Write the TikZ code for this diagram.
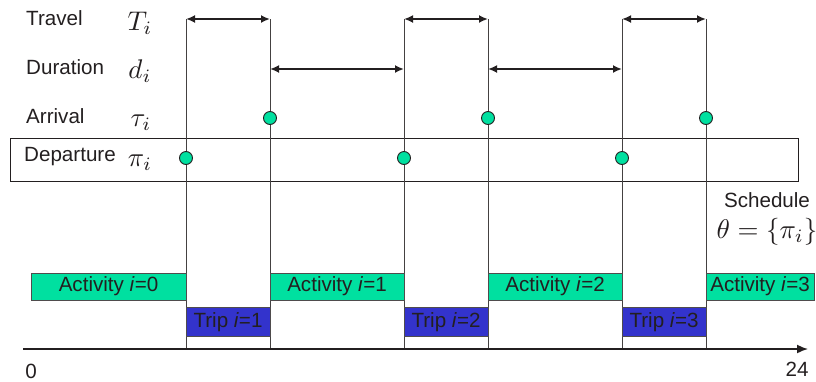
\documentclass[tikz,border=0pt]{standalone}
\usepackage{graphicx}
\usepackage{fontspec}
\setmainfont{Liberation Sans}
\usetikzlibrary{arrows.meta}
\definecolor{actgreen}{RGB}{0,224,160}
\definecolor{tripblue}{RGB}{51,51,204}
\definecolor{ink}{RGB}{35,31,32}
\newcommand{\mysym}[1]{\scalebox{2.7}{\fontsize{10}{12}\selectfont$#1$}}
\tikzset{
  vline/.style={draw=ink!85, line width=1pt},
  span/.style={draw=ink, line width=1.8pt, {Latex[length=9pt,width=8pt]}-{Latex[length=9pt,width=8pt]}},
  dot/.style={circle, draw=ink, line width=0.9pt, fill=actgreen, minimum size=13pt, inner sep=0pt},
  act/.style={draw=ink!80, line width=0.9pt, fill=actgreen, minimum height=27pt, inner sep=0pt, text=ink},
  trip/.style={draw=ink!80, line width=0.9pt, fill=tripblue, minimum height=29pt, minimum width=84pt, inner sep=0pt, text=ink},
  lbl/.style={anchor=west, inner sep=0pt, text=ink},
  sym/.style={inner sep=0pt, text=ink}
}
\begin{document}
\begin{tikzpicture}[x=1pt,y=-1pt, font=\fontsize{20.6}{24}\selectfont]
\useasboundingbox (0,0) rectangle (816,381);
% departure band
\node[draw=ink, line width=0.9pt, minimum width=788pt, minimum height=43pt, anchor=north west, inner sep=0pt] (band) at (10,138) {};
% coordinates
\foreach \n/\x in {d1/186,a1/270,d2/404,a2/488,d3/622,a3/706}{
  \coordinate (\n t) at (\x,19);
  \coordinate (\n b) at (\x,349);
}
\coordinate (a1m) at (270,69);
\coordinate (d2m) at (404,69);
\coordinate (a2m) at (488,69);
\coordinate (d3m) at (622,69);
% vertical lines
\foreach \n in {d1,a1,d2,a2,d3,a3}{ \draw[vline] (\n t) -- (\n b); }
% travel arrows
\draw[span] (d1t) -- (a1t);
\draw[span] (d2t) -- (a2t);
\draw[span] (d3t) -- (a3t);
% duration arrows
\draw[span] (a1m) -- (d2m);
\draw[span] (a2m) -- (d3m);
% arrival dots
\node[dot] (arr1) at (270,118) {};
\node[dot] (arr2) at (488,118) {};
\node[dot] (arr3) at (706,118) {};
% departure dots
\node[dot] (dep1) at (186,158) {};
\node[dot] (dep2) at (404,158) {};
\node[dot] (dep3) at (622,158) {};
% labels
\node[lbl] (ltravel) at (26,18) {Travel};
\node[lbl] (ldur) at (26,67) {Duration};
\node[lbl] (larr) at (26,116) {Arrival};
\node[lbl] (ldep) at (24,157) {Departure};
\node[sym] (sT) at (140,23) {\mysym{T_i}};
\node[sym] (sd) at (140,71) {\mysym{d_i}};
\node[sym] (stau) at (141,123) {\mysym{\tau_i}};
\node[sym] (spi) at (140,163) {\mysym{\pi_i}};
% schedule
\node[inner sep=0pt, text=ink] (sched) at (767,200) {Schedule};
\node[sym] (theta) at (767,232) {\mysym{\theta=\left\{\pi_i\right\}}};
% activities
\node[act, minimum width=155pt] (act0) at (108.5,286.5) {Activity \textit{i}=0};
\node[act, minimum width=134pt] (act1) at (337,286.5) {Activity \textit{i}=1};
\node[act, minimum width=134pt] (act2) at (555,286.5) {Activity \textit{i}=2};
\node[act, minimum width=108pt] (act3) at (760,286.5) {Activity \textit{i}=3};
% trips
\node[trip] (trip1) at (228,322) {Trip \textit{i}=1};
\node[trip] (trip2) at (446,322) {Trip \textit{i}=2};
\node[trip] (trip3) at (664,322) {Trip \textit{i}=3};
% axis
\coordinate (ax0) at (23,349);
\coordinate (ax1) at (808,349);
\draw[draw=ink, line width=1.6pt, -{Latex[length=11pt,width=9pt]}] (ax0) -- (ax1);
\node[inner sep=0pt, text=ink] (zero) at (31,371) {0};
\node[inner sep=0pt, text=ink] (tf) at (797,369) {24};
\end{tikzpicture}
\end{document}
